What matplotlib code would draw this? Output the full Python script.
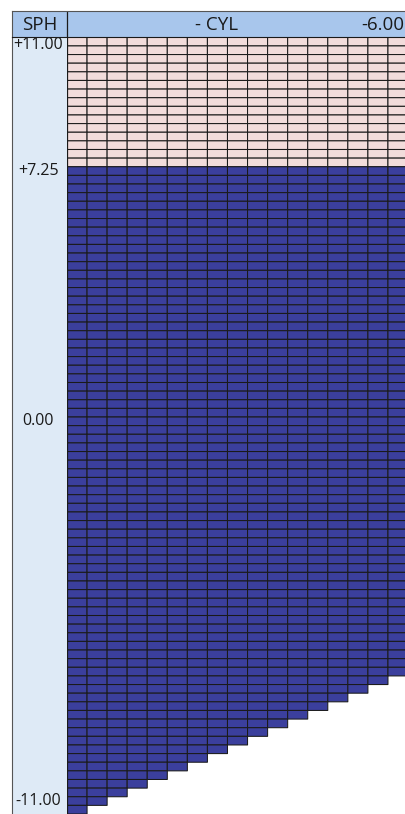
import numpy as np
import matplotlib
matplotlib.use("Agg")
import matplotlib.pyplot as plt
from matplotlib.colors import ListedColormap

plt.rcParams['font.family'] = ['Open Sans', 'DejaVu Sans']

# ---- data ----
cyl_values = [0.00, -0.25, -0.50, -0.75, -1.00, -1.25, -1.50, -1.75, -2.00,
              -2.25, -2.50, -2.75, -3.00, -3.25, -3.50, -3.75, -4.00]
# lowest available SPH for each CYL column (read from the staircase)
min_sph = [-11.25, -11.00, -10.75, -10.50, -10.25, -10.00, -9.75, -9.50, -9.25,
           -9.00, -8.75, -8.50, -8.25, -8.00, -7.75, -7.50, -7.25]
max_sph = 11.00
sph_step = 0.25
pink_from_sph = 7.50          # rows at or above this SPH are pink
row_label_values = [11.00, 7.25, 0.00, -11.00]
row_label_texts = ["+11.00", "+7.25", "0.00", "-11.00"]
header_sph = "SPH"
header_cyl = "- CYL"
header_cyl_end = "-6.00"

# ---- colors ----
pink = "#f2dcdb"
blue = "#3b3f9d"
label_bg = "#deeaf6"
header_bg = "#a8c6ec"
line_col = "#1a1a1a"

W, H = 405, 814
fig = plt.figure(figsize=(W / 100, H / 100), dpi=100)

# geometry (pixels)
grid_left, grid_top = 67, 37.3
lab_left = 12
head_top = 10.7
row_h = 8.63
col_w = 20.06

def fx(px):
    return px / W

def fy(py):
    return 1 - py / H

# ---- grid axes ----
n_rows_visible = (H - grid_top) / row_h
n_cols_visible = (W - grid_left) / col_w
ax = fig.add_axes([fx(grid_left), 0, 1 - fx(grid_left), fy(grid_top)])

sph_rows = np.arange(max_sph, min(min_sph) - sph_step / 2, -sph_step)
x_edges = np.array([c + sph_step / 2 for c in cyl_values] + [cyl_values[-1] - sph_step / 2])
y_edges = np.append(sph_rows + sph_step / 2, sph_rows[-1] - sph_step / 2)

S, C = np.meshgrid(sph_rows, cyl_values, indexing="ij")
lowest = np.array(min_sph)[None, :]
vals = np.where(S >= pink_from_sph, 0.0, 1.0)
mask = S < lowest - 1e-9
Z = np.ma.masked_array(vals, mask=mask)

cmap = ListedColormap([pink, blue])
ax.pcolor(x_edges, y_edges, Z, cmap=cmap, vmin=0, vmax=1,
          edgecolors=line_col, linewidth=0.75)
ax.set_xlim(cyl_values[0] + sph_step / 2,
            cyl_values[0] + sph_step / 2 - n_cols_visible * sph_step)
ax.set_ylim(max_sph + sph_step / 2 - n_rows_visible * sph_step,
            max_sph + sph_step / 2)
ax.set_facecolor("white")
for s in ax.spines.values():
    s.set_visible(False)
ax.spines['left'].set_visible(True)
ax.spines['left'].set_color(line_col)
ax.spines['left'].set_linewidth(0.9)
ax.set_xticks([])
ax.set_yticks([])

# ---- label column ----
lax = fig.add_axes([fx(lab_left), 0, fx(grid_left) - fx(lab_left), fy(grid_top)],
                   sharey=ax)
lax.set_facecolor(label_bg)
lax.set_xlim(0, 1)
for s in lax.spines.values():
    s.set_visible(False)
lax.spines['left'].set_visible(True)
lax.spines['left'].set_color("#555555")
lax.spines['left'].set_linewidth(0.8)
lax.tick_params(left=False, bottom=False, labelleft=False, labelbottom=False)
for v, t in zip(row_label_values, row_label_texts):
    if v == max_sph:
        lax.text(0.47, v + sph_step / 2, t, ha="center", va="top", fontsize=11.5,
                 color="#1a1a1a")
    else:
        lax.text(0.48, v, t, ha="center", va="center", fontsize=11.5, color="#1a1a1a")

# ---- header ----
hax = fig.add_axes([fx(lab_left), fy(grid_top), 1 - fx(lab_left), fy(head_top) - fy(grid_top)])
hax.set_xlim(lab_left, W)
hax.set_ylim(grid_top, head_top)
hax.set_facecolor(header_bg)
hax.set_xticks([])
hax.set_yticks([])
for k, s in hax.spines.items():
    s.set_color("#555555")
    s.set_linewidth(0.8)
hax.spines['right'].set_visible(False)
hax.spines['bottom'].set_color(line_col)
hax.axvline(grid_left, color=line_col, lw=0.9)
ymid = (grid_top + head_top) / 2 + 0.5
hax.text((lab_left + grid_left) / 2, ymid, header_sph, ha="center", va="center",
         fontsize=13.5, color="#1a1a1a")
hax.text(217, ymid, header_cyl, ha="center", va="center", fontsize=13.5, color="#1a1a1a")
hax.text(404, ymid, header_cyl_end, ha="right", va="center", fontsize=13.5, color="#1a1a1a")

fig.savefig("out.png", dpi=100)
